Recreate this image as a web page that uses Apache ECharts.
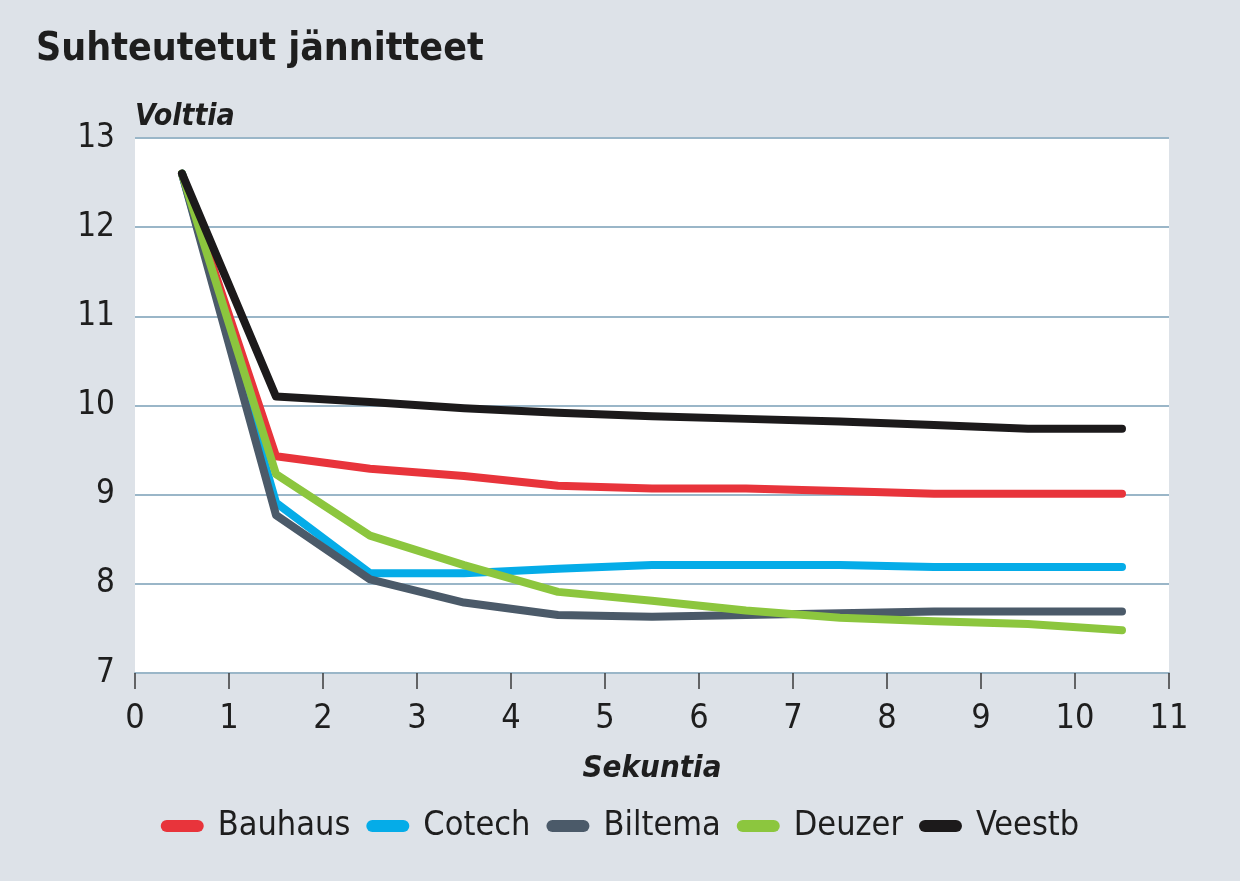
<!DOCTYPE html>
<html>
<head>
<meta charset="utf-8">
<script src="https://cdn.jsdelivr.net/npm/echarts@6/dist/echarts.min.js"></script>
<style>
html,body{margin:0;padding:0;background:#dde2e8;}
#chart{width:1240px;height:881px;}
</style>
</head>
<body>
<div id="chart"></div>
<script>
const seconds = [0.5, 1.5, 2.5, 3.5, 4.5, 5.5, 6.5, 7.5, 8.5, 9.5, 10.5];
const bauhaus = [12.6, 9.43, 9.29, 9.21, 9.10, 9.07, 9.07, 9.04, 9.01, 9.01, 9.01];
const cotech  = [12.6, 8.91, 8.12, 8.12, 8.17, 8.21, 8.21, 8.21, 8.19, 8.19, 8.19];
const biltema = [12.6, 8.77, 8.05, 7.79, 7.65, 7.63, 7.65, 7.67, 7.69, 7.69, 7.69];
const deuzer  = [12.6, 9.23, 8.54, 8.21, 7.91, 7.81, 7.70, 7.62, 7.58, 7.55, 7.48];
const veestb  = [12.6, 10.10, 10.04, 9.97, 9.92, 9.88, 9.85, 9.82, 9.78, 9.74, 9.74];
const seriesNames = ['Bauhaus', 'Cotech', 'Biltema', 'Deuzer', 'Veestb'];
const seriesValues = [bauhaus, cotech, biltema, deuzer, veestb];
const colors = ['#e8343b', '#05ace8', '#4b5a69', '#8cc63e', '#1c1a1b'];

const FONT = '"DejaVu Sans Condensed", "Liberation Sans Narrow", "Liberation Sans", sans-serif';
const chart = echarts.init(document.getElementById('chart'));
chart.setOption({
  backgroundColor: '#dde2e8',
  animation: false,
  textStyle: { fontFamily: FONT },
  title: {
    text: 'Suhteutetut jännitteet',
    left: 31, top: 25,
    textStyle: { fontFamily: FONT, fontWeight: 'bold', fontSize: 39, color: '#1e1e1e' }
  },
  grid: {
    left: 135, right: 71, top: 138, bottom: 208,
    show: true, backgroundColor: '#ffffff', borderWidth: 0
  },
  legend: {
    data: seriesNames,
    bottom: 33, left: 'center',
    icon: 'path://M6,0 L37,0 A6,6 0 0 1 37,12 L6,12 A6,6 0 0 1 6,0 Z',
    itemWidth: 43, itemHeight: 12, itemGap: 16,
    textStyle: { fontFamily: FONT, fontSize: 34, color: '#1e1e1e', padding: [0, 0, 0, 9] }
  },
  xAxis: {
    type: 'value', min: 0, max: 11, interval: 1,
    name: 'Sekuntia', nameLocation: 'middle', nameGap: 80,
    nameTextStyle: { fontFamily: FONT, fontSize: 31, fontWeight: 'bold', fontStyle: 'italic', color: '#1e1e1e' },
    axisLine: { show: true, lineStyle: { color: '#9ab6c8', width: 2 } },
    axisTick: { show: true, length: 16, lineStyle: { color: '#3a3a3a', width: 1.5 } },
    axisLabel: { fontFamily: FONT, fontSize: 34, color: '#1e1e1e', margin: 29 },
    splitLine: { show: false }
  },
  yAxis: {
    type: 'value', min: 7, max: 13, interval: 1,
    name: 'Volttia', nameLocation: 'end', nameGap: 6,
    nameTextStyle: { fontFamily: FONT, fontSize: 30, fontWeight: 'bold', fontStyle: 'italic', color: '#1e1e1e', align: 'left', verticalAlign: 'bottom' },
    axisLine: { show: false },
    axisTick: { show: false },
    axisLabel: { fontFamily: FONT, fontSize: 33, color: '#1e1e1e', margin: 20 },
    splitLine: { show: true, lineStyle: { color: '#9ab6c8', width: 2 } }
  },
  series: seriesNames.map((name, i) => ({
    name: name,
    type: 'line',
    data: seconds.map((s, j) => [s, seriesValues[i][j]]),
    showSymbol: false,
    symbol: 'none',
    color: colors[i],
    lineStyle: { width: 8, color: colors[i], cap: 'round', join: 'round' }
  }))
});
</script>
</body>
</html>
